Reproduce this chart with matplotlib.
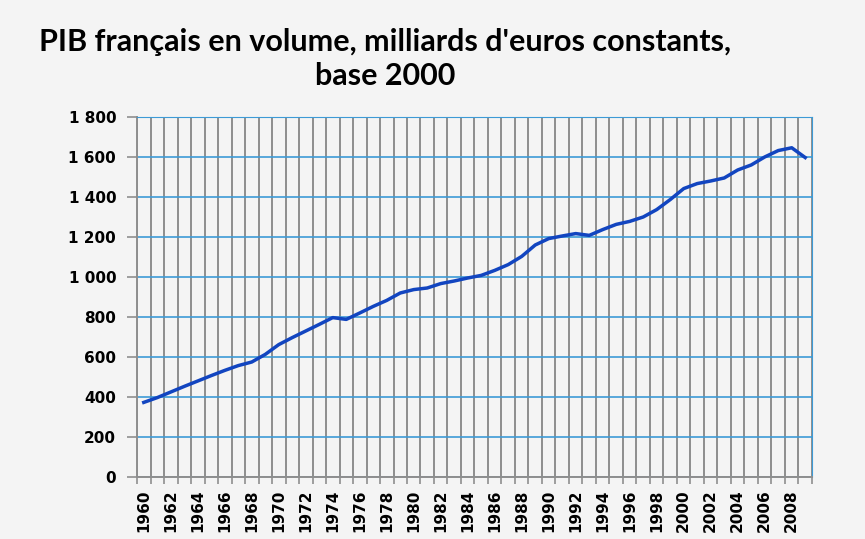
import numpy as np
import matplotlib
matplotlib.use("Agg")
import matplotlib.pyplot as plt
from matplotlib.ticker import FixedLocator, FuncFormatter

years = list(range(1960, 2010))
pib = [373, 397, 425, 453, 480, 507, 533, 557, 575, 613,
       662, 697, 730, 763, 797, 788, 820, 853, 883, 920,
       937, 945, 967, 980, 995, 1008, 1033, 1062, 1103, 1160,
       1192, 1205, 1217, 1208, 1237, 1263, 1278, 1300, 1337, 1387,
       1442, 1467, 1480, 1495, 1535, 1560, 1600, 1632, 1646, 1597]
y_ticks = [0, 200, 400, 600, 800, 1000, 1200, 1400, 1600, 1800]
x_labels = list(range(1960, 2010, 2))
title = "PIB français en volume, milliards d'euros constants,\nbase 2000"


def plot_pib():
    bg = '#f4f4f4'
    fig = plt.figure(figsize=(8.65, 5.39), dpi=100, facecolor=bg)
    ax = fig.add_axes([0.1584, 0.115, 0.7803, 0.668])
    ax.set_facecolor(bg)

    ax.plot(years, pib, color='#1245c0', linewidth=2.5, zorder=3)

    ax.set_xlim(years[0] - 0.5, years[-1] + 0.5)
    ax.set_ylim(0, 1800)

    # horizontal grid (blue) on y ticks
    ax.yaxis.set_major_locator(FixedLocator(y_ticks))
    ax.yaxis.set_major_formatter(FuncFormatter(lambda v, p: f"{int(v):,}".replace(",", " ")))
    ax.grid(axis='y', which='major', color='#3d9ad6', linewidth=1.2, zorder=1)

    # vertical grid (gray) on category boundaries
    ax.xaxis.set_major_locator(FixedLocator(x_labels))
    ax.xaxis.set_minor_locator(FixedLocator([y - 0.5 for y in years] + [years[-1] + 0.5]))
    ax.grid(axis='x', which='minor', color='#8e8e8e', linewidth=1.4, zorder=1)
    ax.tick_params(axis='x', which='major', length=0, pad=9)
    ax.tick_params(axis='x', which='minor', length=5, color='#8e8e8e', width=1.2)
    ax.tick_params(axis='y', which='major', length=7, color='#8e8e8e', width=1.2, pad=8)

    for lab in ax.get_xticklabels():
        lab.set_rotation(90)
        lab.set_fontweight('bold')
        lab.set_fontsize(11)
    for lab in ax.get_yticklabels():
        lab.set_fontweight('bold')
        lab.set_fontsize(11)

    ax.spines['left'].set_color('#8e8e8e')
    ax.spines['left'].set_linewidth(1.4)
    ax.spines['bottom'].set_color('#8e8e8e')
    ax.spines['bottom'].set_linewidth(1.4)
    ax.spines['top'].set_color('#3d9ad6')
    ax.spines['right'].set_color('#3d9ad6')

    fig.text(0.445, 0.891, title, ha='center', va='center', fontsize=22,
             fontweight='bold', family=['Lato', 'DejaVu Sans'], linespacing=1.25)

    plt.savefig('out.png', dpi=100, facecolor=bg)
    plt.close()


if __name__ == '__main__':
    plot_pib()
